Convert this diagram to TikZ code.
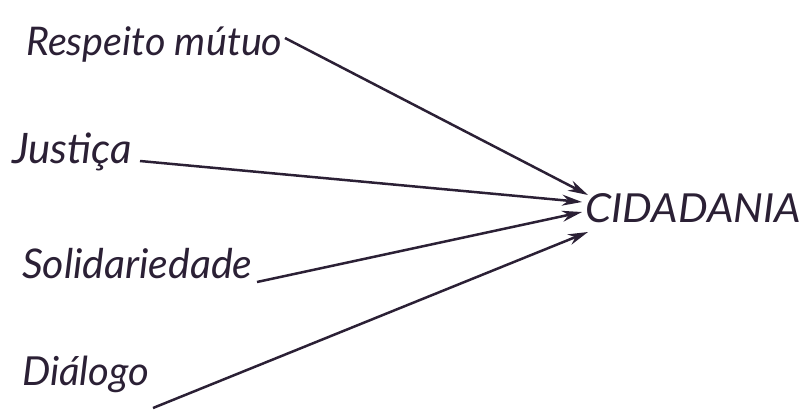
\documentclass[tikz,border=0pt]{standalone}
\usepackage{fontspec}
\setmainfont{Lato}
\usetikzlibrary{arrows.meta}
\definecolor{ink}{HTML}{2B2035}
\newcommand{\fsz}[1]{\itshape\fontsize{#1}{#1}\selectfont}
\begin{document}
\begin{tikzpicture}[x=1pt,y=-1pt,
  lbl/.style={anchor=base west,inner sep=0pt,text=ink},
  arr/.style={draw=ink,line width=2.5pt,-{Stealth[length=20pt,width=11pt]}}]
\useasboundingbox (0,0) rectangle (810,410);
\node[lbl,font=\fsz{39.5}] (resp) at (26,55) {Respeito mútuo};
\node[lbl,font=\fsz{42}] (just) at (12,163) {Justiça};
\node[lbl,font=\fsz{41}] (soli) at (22,278) {Solidariedade};
\node[lbl,font=\fsz{40}] (dial) at (22,385) {Diálogo};
\node[lbl,font=\fsz{40}] (cid) at (585,222) {\scalebox{1.05}[1]{CIDADANIA}};
\coordinate (s1) at (285,38);
\coordinate (s2) at (140,161);
\coordinate (s3) at (257,282);
\coordinate (s4) at (153,408);
\coordinate (t1) at (588,195);
\coordinate (t2) at (582,202);
\coordinate (t3) at (582,212);
\coordinate (t4) at (588,232);
\draw[arr] (s1) -- (t1);
\draw[arr] (s2) -- (t2);
\draw[arr] (s3) -- (t3);
\draw[arr] (s4) -- (t4);
\end{tikzpicture}
\end{document}
